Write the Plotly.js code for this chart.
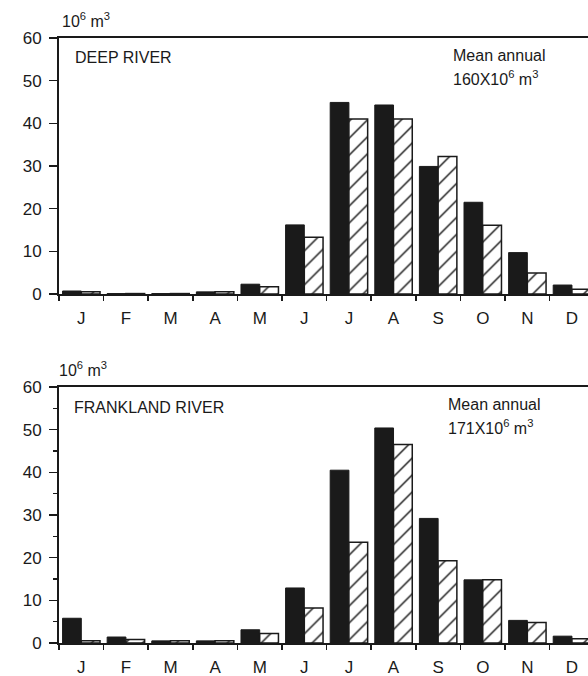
<!DOCTYPE html>
<html>
<head>
<meta charset="utf-8">
<script src="https://cdn.plot.ly/plotly-3.0.1.min.js"></script>
<style>html,body{margin:0;padding:0;background:#fff;}#chart{width:588px;height:676px;}</style>
</head>
<body>
<div id="chart"></div>
<script>
// Month labels
const months = ['J','F','M','A','M','J','J','A','S','O','N','D'];
const monthIndex = [0,1,2,3,4,5,6,7,8,9,10,11];

// Deep River (10^6 m^3) - black and hatched series
const deepBlack   = [0.7, 0.1, 0.1, 0.5, 2.3, 16.2, 44.9, 44.3, 29.9, 21.5, 9.7, 2.1];
const deepHatched = [0.5, 0.1, 0.1, 0.5, 1.7, 13.3, 41.0, 41.0, 32.2, 16.1, 4.9, 1.1];

// Frankland River (10^6 m^3)
const frankBlack   = [5.8, 1.4, 0.5, 0.5, 3.1, 12.9, 40.5, 50.4, 29.2, 14.8, 5.3, 1.6];
const frankHatched = [0.5, 0.8, 0.5, 0.5, 2.2, 8.2, 23.6, 46.5, 19.3, 14.8, 4.8, 1.0];

const FONT = 'Liberation Sans, Arial, sans-serif';
const INK = '#1a1a1a';

function blackTrace(y, xa, ya){
  return {type:'bar', x: monthIndex, y: y, xaxis: xa, yaxis: ya,
    marker:{color: INK, line:{color: INK, width:1}}, showlegend:false, hoverinfo:'skip'};
}
function hatchTrace(y, xa, ya){
  return {type:'bar', x: monthIndex, y: y, xaxis: xa, yaxis: ya,
    marker:{color:'white', line:{color: INK, width:1.5},
      pattern:{shape:'/', fgcolor: INK, bgcolor:'white', size:12, solidity:0.12}},
    showlegend:false, hoverinfo:'skip'};
}

const data = [
  blackTrace(deepBlack, 'x', 'y'),
  hatchTrace(deepHatched, 'x', 'y'),
  blackTrace(frankBlack, 'x2', 'y2'),
  hatchTrace(frankHatched, 'x2', 'y2')
];

const W = 588, H = 676;
const px = v => v / W;
const py = v => 1 - v / H;

function xAxis(anchor){
  return {
    anchor: anchor, domain:[px(59), 1], range:[-0.5, 11.36],
    tickvals: monthIndex, ticktext: months, ticks:'', ticklabelstandoff: 8,
    showline:true, linecolor: INK, linewidth:2, mirror:true,
    showgrid:false, zeroline:false, fixedrange:true,
    tickfont:{family: FONT, size:17, color: INK},
    minor:{tick0:-0.5, dtick:1, ticks:'outside', ticklen:5, tickwidth:1.5, tickcolor: INK, showgrid:false},
    automargin:false
  };
}
function yAxis(anchor, domain, minor){
  const ax = {
    anchor: anchor, domain: domain, range:[0, 60], dtick:10, tick0:0,
    ticks:'outside', ticklen:8, tickwidth:1.5, tickcolor: INK, ticklabelstandoff: 4,
    showline:true, linecolor: INK, linewidth:2,
    showgrid:false, zeroline:false, fixedrange:true,
    tickfont:{family: FONT, size:17, color: INK}, automargin:false
  };
  if (minor) ax.minor = {dtick:5, ticks:'outside', ticklen:4, tickwidth:1.2, tickcolor: INK, showgrid:false};
  return ax;
}

function ann(text, x, y, size){
  return {text: text, xref:'paper', yref:'paper', x: px(x), y: py(y),
    xanchor:'left', yanchor:'middle', showarrow:false,
    font:{family: FONT, size: size || 16, color: INK}};
}

const layout = {
  width: W, height: H,
  margin:{l:0, r:0, t:0, b:0},
  paper_bgcolor:'white', plot_bgcolor:'white',
  barmode:'group', bargap:0.16, bargroupgap:0,
  xaxis: xAxis('y'),
  yaxis: yAxis('x', [py(294), py(38)], false),
  xaxis2: xAxis('y2'),
  yaxis2: yAxis('x2', [py(643), py(387)], true),
  annotations:[
    ann('10<sup>6</sup> m<sup>3</sup>', 60, 20, 16),
    ann('DEEP RIVER', 73, 58, 16),
    ann('Mean annual', 451, 55, 16),
    ann('160X10<sup>6</sup> m<sup>3</sup>', 451, 78, 16),
    ann('10<sup>6</sup> m<sup>3</sup>', 57, 369, 16),
    ann('FRANKLAND RIVER', 72, 407, 16),
    ann('Mean annual', 446, 404, 16),
    ann('171X10<sup>6</sup> m<sup>3</sup>', 446, 427, 16)
  ]
};

Plotly.newPlot('chart', data, layout, {displayModeBar:false, staticPlot:true});
</script>
</body>
</html>
